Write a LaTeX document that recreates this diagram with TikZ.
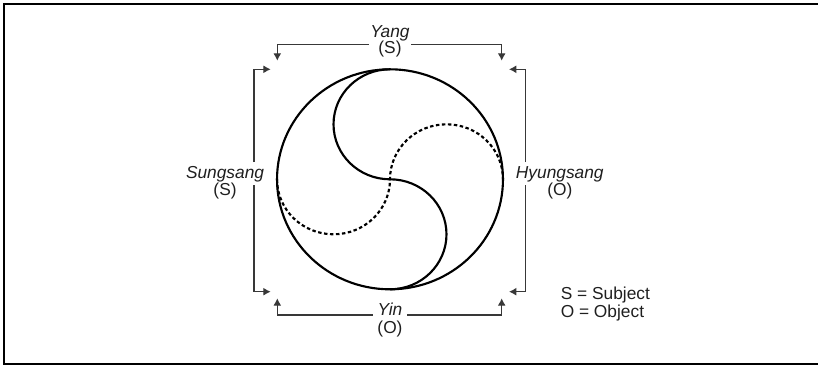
\documentclass[tikz,border=0pt]{standalone}
\usepackage{fontspec}
\setmainfont{Liberation Sans}
\usetikzlibrary{arrows.meta}
\begin{document}
\begin{tikzpicture}[x=0.75pt,y=0.75pt,
  lbl/.style={font=\fontsize{13}{14}\selectfont, text=black!88, inner sep=0pt},
  br/.style={draw=black!78, line width=0.9pt, -{Latex[length=5.5pt,width=6pt]}},
  ring/.style={line width=1.6pt},
  dotring/.style={line width=1.6pt, dash pattern=on 2.6pt off 1.9pt},
  frame/.style={line width=1.5pt}]
\useasboundingbox (0,0) rectangle (818,365);
\draw[frame] (830,361.3) -- (4.3,361.3) -- (4.3,1.5) -- (830,1.5);

% circle and S-curves
\begin{scope}[shift={(390,185.7)}, xscale=1.027]
  \draw[ring] (0,0) circle[radius=110];
  \draw[ring] (0,110) arc[start angle=90,end angle=270,radius=55]
                      arc[start angle=90,end angle=-90,radius=55];
  \draw[dotring] (-110,0) arc[start angle=180,end angle=360,radius=55]
                          arc[start angle=180,end angle=0,radius=55];
\end{scope}

% labels
\node[lbl, anchor=base, inner xsep=1.2pt] (yang) at (390,327) {\itshape Yang};
\path (yang.base) ++(0,-16) node[lbl, anchor=base] (yangS) {(S)};
\node[lbl, anchor=base, inner xsep=3.5pt] (yin) at (390,50) {\itshape Yin};
\path (yin.base) ++(0,-18) node[lbl, anchor=base] (yinO) {(O)};
\node[lbl, anchor=base east, inner xsep=2pt, inner ysep=2.7pt] (sung) at (267,187) {\itshape Sungsang};
\path (sung.base) ++(0,-17) node[lbl, anchor=base] (sungS) {(S)};
\node[lbl, anchor=base west, inner xsep=2pt, inner ysep=2.7pt] (hyung) at (513,187) {\itshape Hyungsang};
\path (hyung.base) ++(0,-17) node[lbl, anchor=base] (hyungO) {(O)};
\node[lbl, anchor=base west] (legS) at (560.5,66) {S = Subject};
\node[lbl, anchor=base west] (legO) at (560.5,48) {O = Object};

% bracket coordinates
\coordinate (ty) at (0,320.5);
\coordinate (by) at (0,50);
\coordinate (lx) at (254,0);
\coordinate (rx) at (525.7,0);
\coordinate (tlA) at (277.3,304.3);
\coordinate (trA) at (501.7,304.3);
\coordinate (blA) at (277.3,66.7);
\coordinate (brA) at (501.7,66.7);
\coordinate (ltA) at (270.7,295.7);
\coordinate (lbA) at (270.7,73.3);
\coordinate (rtA) at (509,295.7);
\coordinate (rbA) at (509,73.3);

\draw[br] (yang.west |- ty) -| (tlA);
\draw[br] (yang.east |- ty) -| (trA);
\draw[br] (yin.west |- by) -| (blA);
\draw[br] (yin.east |- by) -| (brA);
\draw[br] (sung.north -| lx) |- (ltA);
\draw[br] (sung.south -| lx) |- (lbA);
\draw[br] (hyung.north -| rx) |- (rtA);
\draw[br] (hyung.south -| rx) |- (rbA);
\end{tikzpicture}
\end{document}
